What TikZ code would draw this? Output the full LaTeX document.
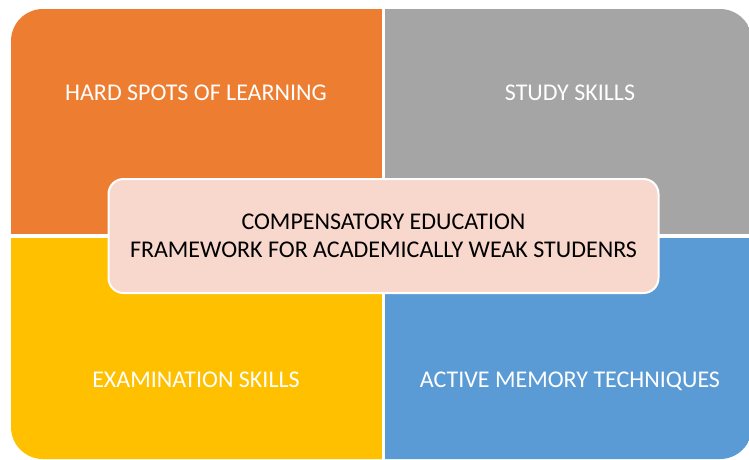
\documentclass[tikz,border=0pt]{standalone}
\usepackage{fontspec}
\setmainfont{Carlito}
\usepackage{tikz}
\usetikzlibrary{positioning}
\definecolor{qorange}{RGB}{237,125,49}
\definecolor{qgray}{RGB}{165,165,165}
\definecolor{qyellow}{RGB}{255,192,0}
\definecolor{qblue}{RGB}{91,155,213}
\definecolor{hdrpink}{RGB}{248,215,205}
\tikzset{
  quadlabel/.style={text=white, font=\fontsize{24}{28}\selectfont,
    anchor=base, inner sep=0pt},
  centerbox/.style={rectangle, draw=white, fill=hdrpink, line width=2pt,
    rounded corners=15pt, minimum width=550pt, minimum height=114pt,
    align=center, font=\fontsize{24}{28}\selectfont, text=black}
}

\begin{document}
\begin{tikzpicture}[x=1pt, y=-1pt]
  \useasboundingbox (0,0) rectangle (749,459);

  % Quadrants, clipped to the outer rounded frame
  \begin{scope}
    \clip[rounded corners=32pt] (11,9) rectangle (752,459);
    \fill[qorange] (0,0) rectangle (383.5,236);
    \fill[qgray] (383.5,0) rectangle (760,236);
    \fill[qyellow] (0,236) rectangle (383.5,470);
    \fill[qblue] (383.5,236) rectangle (760,470);
    \draw[white, line width=3pt] (383.5,0) -- (383.5,470);
    \draw[white, line width=3.5pt] (0,236) -- (760,236);
  \end{scope}

  % Labels
  \node[quadlabel] (hard) at (196,100) {HARD SPOTS OF LEARNING};
  \node[quadlabel] (study) at (570,100) {STUDY SKILLS};
  \node[quadlabel] (exam) at (196,387) {EXAMINATION SKILLS};
  \node[quadlabel] (memory) at (570,387) {ACTIVE MEMORY TECHNIQUES};

  % Centre
  \node[centerbox] (frame) at (383.5,236)
    {COMPENSATORY EDUCATION\\FRAMEWORK FOR ACADEMICALLY WEAK STUDENRS};
\end{tikzpicture}
\end{document}
